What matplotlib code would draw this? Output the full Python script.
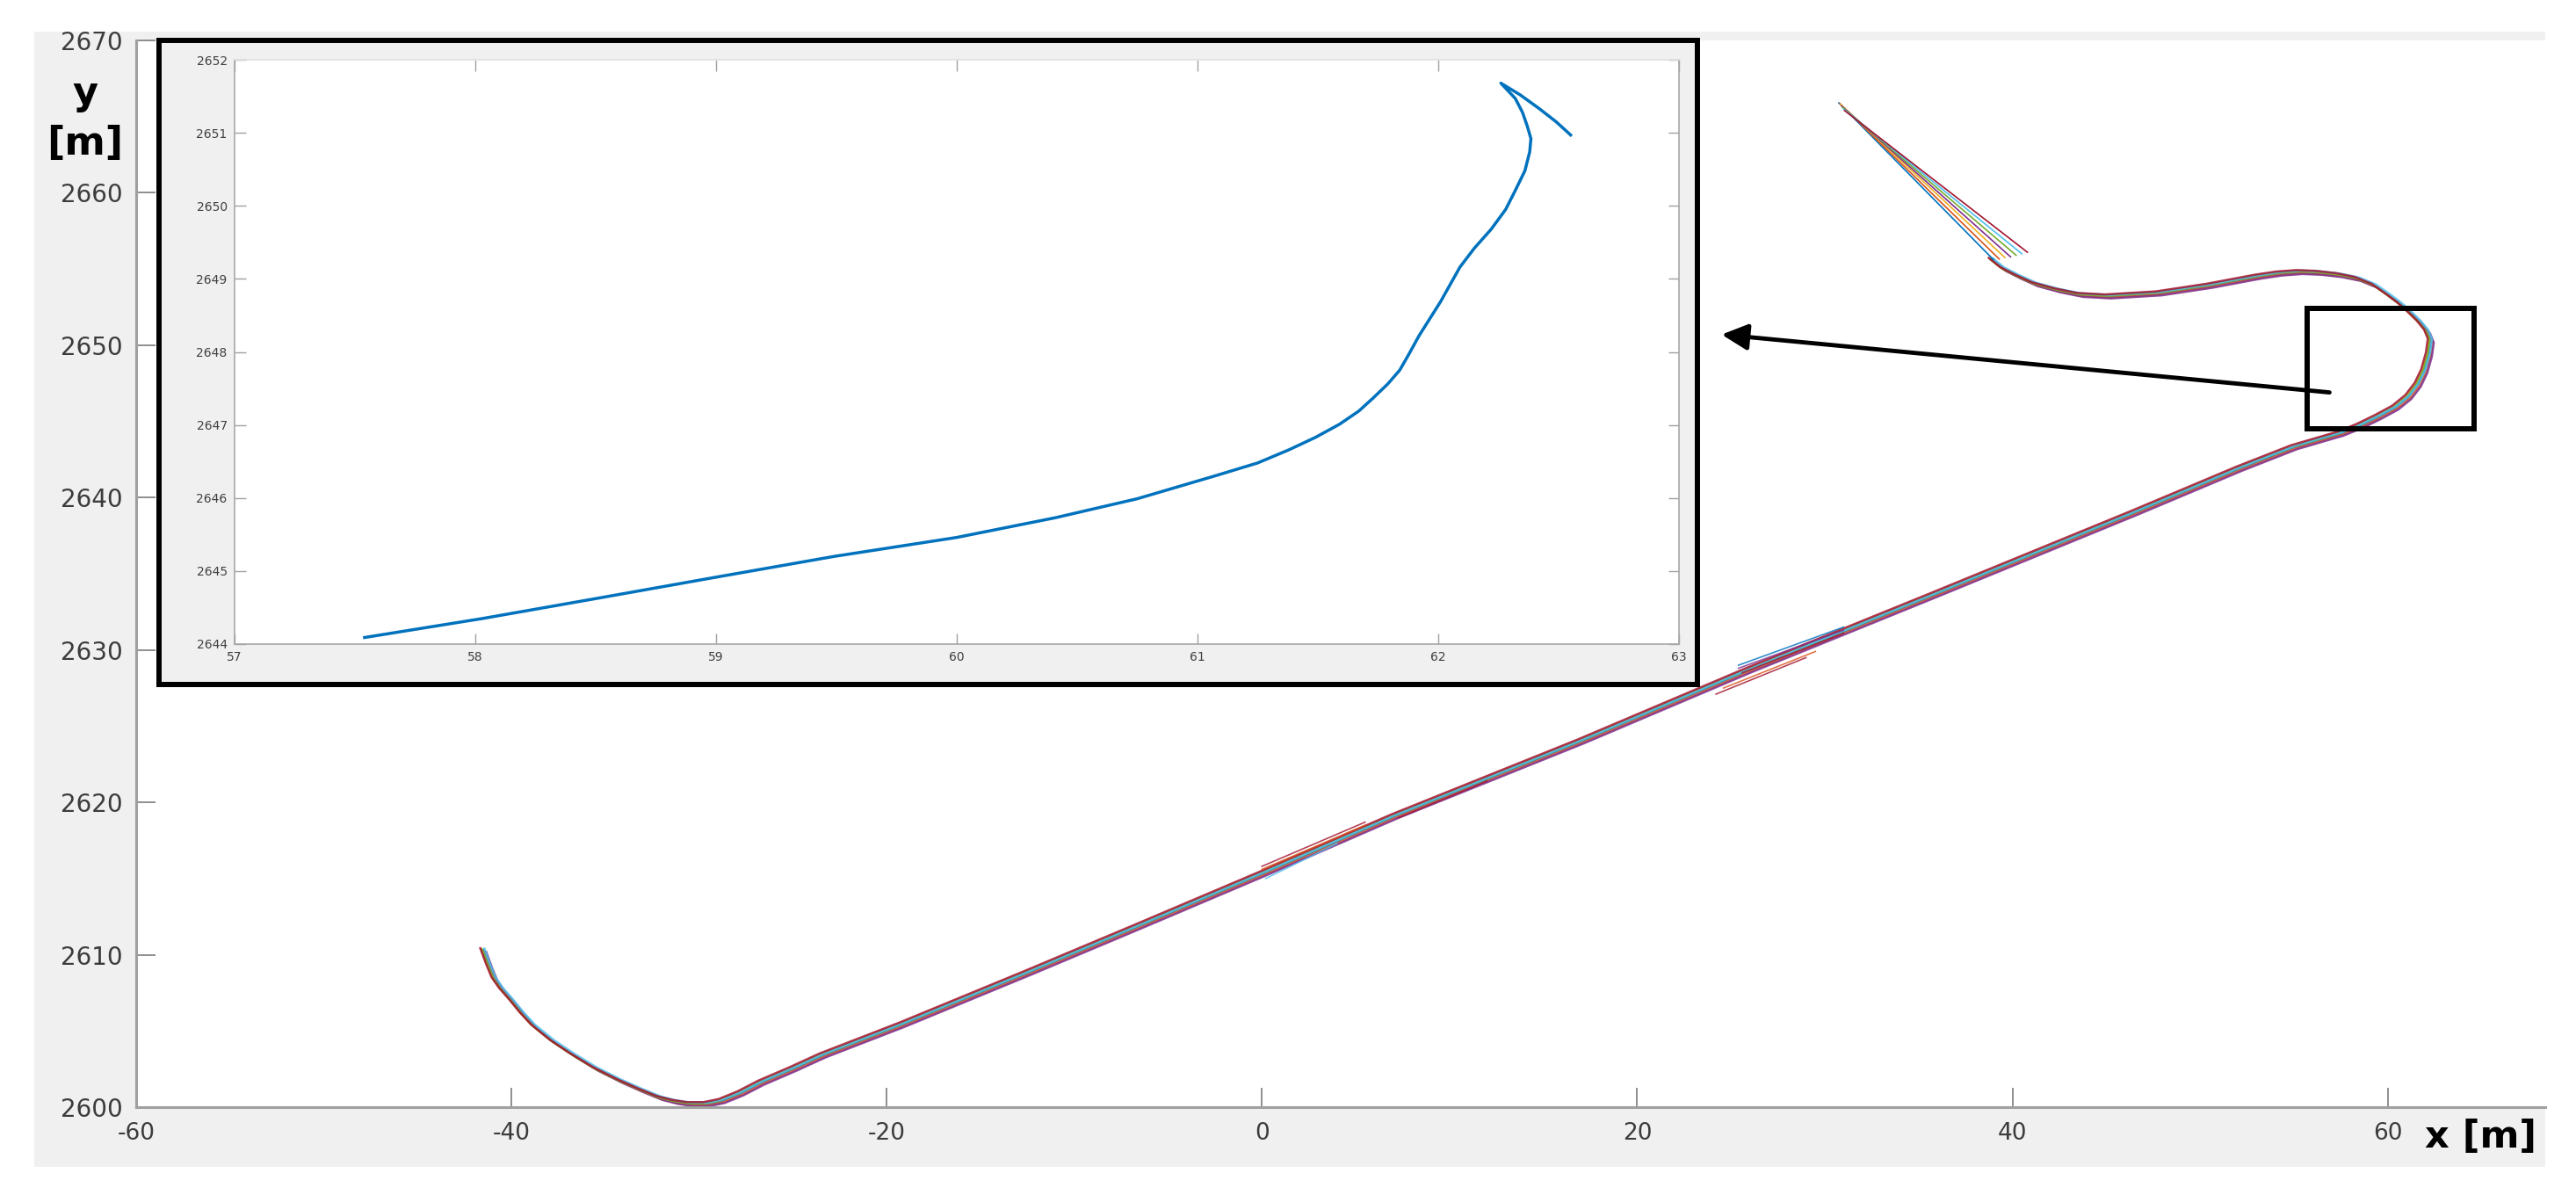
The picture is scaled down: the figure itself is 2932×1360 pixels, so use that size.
import matplotlib.pyplot as plt
from matplotlib.patches import Rectangle

plt.rcParams['axes.unicode_minus'] = False

# MATLAB default line colours
colors = ['#0072BD', '#D95319', '#EDB120', '#7E2F8E', '#77AC30', '#4DBEEE', '#A2142F']

# driven path [m]
path_x = [-41.5, -41.2, -40.9, -40.5, -40.0, -39.4, -38.8, -37.8, -36.7, -35.5,
          -34.2, -33.1, -32.1, -31.3, -30.5, -29.6, -28.8, -27.8, -26.7, -25.0,
          -23.4, -19.2, -12.5, -6.7, 0.0, 7.1, 17.0, 26.0, 35.8, 46.5,
          52.1, 55.0, 57.5, 58.5, 59.5, 60.4, 61.1, 61.6, 61.95, 62.2,
          62.3, 62.1, 61.7, 61.2, 60.65, 60.0, 59.3, 58.4, 57.4, 56.3,
          55.3, 54.2, 53.1, 50.5, 47.8, 45.1, 43.6, 42.4, 41.2, 40.3,
          39.5, 38.9]
path_y = [2610.3, 2609.3, 2608.4, 2607.7, 2607.0, 2606.1, 2605.3, 2604.3, 2603.4, 2602.5,
          2601.7, 2601.1, 2600.6, 2600.35, 2600.2, 2600.2, 2600.4, 2600.9, 2601.6, 2602.5,
          2603.4, 2605.4, 2608.8, 2611.8, 2615.3, 2619.1, 2624.0, 2628.7, 2633.6, 2639.0,
          2641.9, 2643.3, 2644.2, 2644.7, 2645.3, 2645.9, 2646.6, 2647.4, 2648.3, 2649.4,
          2650.3, 2650.9, 2651.5, 2652.1, 2652.7, 2653.3, 2653.9, 2654.35, 2654.6, 2654.75,
          2654.8, 2654.7, 2654.5, 2653.9, 2653.4, 2653.2, 2653.3, 2653.6, 2654.0, 2654.5,
          2655.0, 2655.6]

# small spread between the runs
run_dx = [0.0, 0.1, -0.1, 0.16, -0.06, 0.06, -0.16]
run_dy = [0.0, -0.08, 0.07, -0.13, 0.04, 0.1, 0.13]

# last straight piece: fan of predictions
fan_x0 = [39.0, 39.3, 39.6, 39.9, 40.2, 40.5, 40.8]
fan_y0 = [2655.6, 2655.65, 2655.75, 2655.8, 2655.9, 2656.0, 2656.1]
fan_x1 = [30.75, 30.8, 30.85, 30.9, 30.95, 31.0, 31.05]
fan_y1 = [2665.9, 2665.85, 2665.8, 2665.7, 2665.6, 2665.5, 2665.4]

# short predicted pieces that stick out of the bundle
stub_x0 = [25.4, 25.4, 25.6, 24.2, 24.6, 0.0, 0.0, 0.2, 7.3]
stub_y0 = [2629.0, 2628.8, 2628.5, 2627.1, 2627.5, 2615.8, 2615.6, 2615.0, 2619.0]
stub_x1 = [31.0, 31.0, 31.0, 29.0, 29.5, 5.5, 5.5, 4.0, 12.0]
stub_y1 = [2631.5, 2631.3, 2631.1, 2629.5, 2629.9, 2618.7, 2618.5, 2617.3, 2621.4]
stub_c = [0, 3, 6, 6, 1, 6, 1, 5, 6]

# zoomed single trajectory
inset_x = [57.54, 58.03, 58.53, 58.99, 59.49, 60.00, 60.41, 60.75, 61.08, 61.25,
           61.38, 61.49, 61.59, 61.67, 61.73, 61.79, 61.84, 61.88, 61.92, 62.01,
           62.09, 62.15, 62.22, 62.28, 62.32, 62.36, 62.38, 62.385, 62.37, 62.35,
           62.32, 62.26, 62.34, 62.42, 62.49, 62.55]
inset_y = [2644.09, 2644.35, 2644.64, 2644.91, 2645.20, 2645.46, 2645.73, 2645.99, 2646.31, 2646.48,
           2646.66, 2646.83, 2647.01, 2647.19, 2647.37, 2647.56, 2647.75, 2647.98, 2648.22, 2648.69,
           2649.16, 2649.42, 2649.68, 2649.95, 2650.21, 2650.48, 2650.74, 2650.92, 2651.09, 2651.28,
           2651.47, 2651.68, 2651.52, 2651.33, 2651.15, 2650.97]

W, H = 2932, 1360
fig = plt.figure(figsize=(W / 100, H / 100), dpi=100, facecolor='white')

# grey MATLAB figure background
fig.patches.append(Rectangle((39 / W, 1 - 1328 / H), (2897 - 39) / W, (1328 - 36) / H,
                             transform=fig.transFigure, facecolor='#F0F0F0',
                             edgecolor='none', zorder=-5))

ax = fig.add_axes([155 / W, 1 - 1260 / H, (2897 - 155) / W, (1260 - 46) / H])
ax.set_facecolor('white')
for i in range(len(colors)):
    ax.plot([x + run_dx[i] for x in path_x], [y + run_dy[i] for y in path_y],
            color=colors[i], lw=1.8, alpha=0.85, solid_joinstyle='round')
for i in range(len(fan_x0)):
    ax.plot([fan_x0[i], fan_x1[i]], [fan_y0[i], fan_y1[i]], color=colors[i], lw=1.2)
for i in range(len(stub_x0)):
    ax.plot([stub_x0[i], stub_x1[i]], [stub_y0[i], stub_y1[i]], color=colors[stub_c[i]],
            lw=1.2, alpha=0.8)

ax.set_xlim(-60, 68.4)
ax.set_ylim(2600, 2670)
ax.set_xticks(range(-60, 61, 20))
ax.set_yticks(range(2600, 2671, 10))
ax.spines['top'].set_visible(False)
ax.spines['right'].set_visible(False)
for s in ['left', 'bottom']:
    ax.spines[s].set_color('#a0a0a0')
    ax.spines[s].set_linewidth(2.2)
ax.tick_params(direction='in', length=16, width=1.1, color='#707070', labelcolor='#3c3c3c')
ax.tick_params(axis='x', labelsize=19, pad=12)
ax.tick_params(axis='y', labelsize=20, pad=11)

# box marking the zoomed region and the arrow to the inset
ax.add_patch(Rectangle((55.7, 2644.5), 8.9, 7.9, fill=False, edgecolor='black', lw=4.3, zorder=5))
ax.annotate('', xy=(24.5, 2650.7), xytext=(56.9, 2646.9), annotation_clip=False,
            arrowprops=dict(arrowstyle='-|>,head_length=0.6,head_width=0.3',
                            lw=3.5, color='black', mutation_scale=30, shrinkA=0, shrinkB=0))

# inset frame
fig.patches.append(Rectangle((181 / W, 1 - 779 / H), (1932 - 181) / W, (779 - 46) / H,
                             transform=fig.transFigure, facecolor='#F0F0F0',
                             edgecolor='black', lw=4.3, zorder=1))

axi = fig.add_axes([267 / W, 1 - 733 / H, (1911 - 267) / W, (733 - 68) / H], zorder=2)
axi.set_facecolor('white')
axi.plot(inset_x, inset_y, color=colors[0], lw=2.5, solid_joinstyle='round')
axi.set_xlim(57, 63)
axi.set_ylim(2644, 2652)
axi.set_xticks(range(57, 64))
axi.set_yticks(range(2644, 2653))
for s in axi.spines.values():
    s.set_color('#a8a8a8')
    s.set_linewidth(1.2)
axi.spines['top'].set_color('#e0e0e0')
axi.tick_params(direction='in', length=9, width=1, color='#a0a0a0', labelcolor='#404040',
                labelsize=10, top=True, right=True, pad=6)

fig.text(97 / W, 1 - 106 / H, 'y', fontsize=32, fontweight='bold', ha='center', va='center')
fig.text(97 / W, 1 - 164 / H, '[m]', fontsize=32, fontweight='bold', ha='center', va='center')
fig.text(2824 / W, 1 - 1294 / H, 'x [m]', fontsize=31, fontweight='bold', ha='center', va='center')

fig.savefig('out.png', dpi=100, facecolor='white')
